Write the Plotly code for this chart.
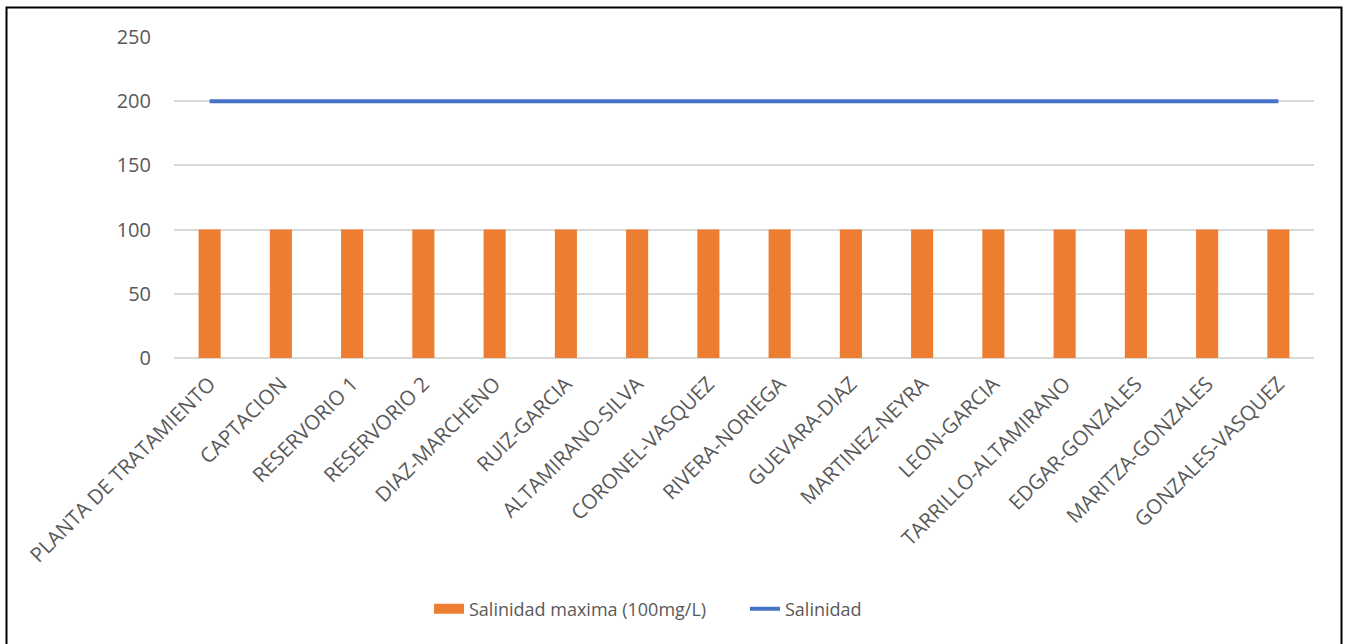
import plotly.graph_objects as go

categories = ["PLANTA DE TRATAMIENTO", "CAPTACION", "RESERVORIO 1", "RESERVORIO 2",
              "DIAZ-MARCHENO", "RUIZ-GARCIA", "ALTAMIRANO-SILVA", "CORONEL-VASQUEZ",
              "RIVERA-NORIEGA", "GUEVARA-DIAZ", "MARTINEZ-NEYRA", "LEON-GARCIA",
              "TARRILLO-ALTAMIRANO", "EDGAR-GONZALES", "MARITZA-GONZALES", "GONZALES-VASQUEZ"]
salinidad_maxima = [100] * 16
salinidad = [200] * 16
y_ticks = [0, 50, 100, 150, 200, 250]

W, H = 1349, 644
L, R, T, B = 174, 1314, 37, 358

def px_x(p):
    return (p - L) / (R - L)

def px_y(p):
    return (B - p) / (B - T)

ORANGE = "#ED7D31"
BLUE = "#4472C4"
TXT = "#595959"

fig = go.Figure()
fig.add_trace(go.Bar(x=categories, y=salinidad_maxima, name="Salinidad maxima (100mg/L)",
                     marker=dict(color=ORANGE, line=dict(width=0)), width=0.31, showlegend=False))
fig.add_trace(go.Scatter(x=[None], y=[None], name="Salinidad maxima (100mg/L)", mode="lines",
                         line=dict(color=ORANGE, width=12), hoverinfo="skip", legend="legend"))
fig.add_trace(go.Scatter(x=categories, y=salinidad, name="Salinidad", mode="lines",
                         line=dict(color=BLUE, width=4), legend="legend2"))

legend_font = dict(family="Open Sans, sans-serif", size=18, color=TXT)
fig.update_layout(
    width=W, height=H,
    margin=dict(l=L, r=W - R, t=T, b=H - B, pad=0),
    paper_bgcolor="white", plot_bgcolor="white",
    font=dict(family="Open Sans, sans-serif", color=TXT, size=15),
    showlegend=True,
    legend=dict(orientation="h", x=px_x(429), xanchor="left", y=px_y(609), yanchor="middle",
                font=legend_font, itemwidth=30, bgcolor="rgba(0,0,0,0)"),
    legend2=dict(orientation="h", x=px_x(745), xanchor="left", y=px_y(609), yanchor="middle",
                 font=legend_font, itemwidth=30, bgcolor="rgba(0,0,0,0)"),
)
fig.update_xaxes(type="category", tickangle=-45, showgrid=False, showline=False, ticks="",
                 ticklabelstandoff=9,
                 tickfont=dict(size=20.5, color=TXT), range=[-0.5, 15.5])
fig.update_yaxes(range=[0, 250], tickvals=y_ticks, showgrid=True, gridcolor="#D9D9D9", gridwidth=1.5,
                 zeroline=True, zerolinecolor="#D9D9D9", zerolinewidth=1.5, showline=False, ticks="",
                 ticklabelstandoff=22,
                 tickfont=dict(family="Open Sans, sans-serif", size=20, color=TXT))

fig.add_shape(type="rect", xref="paper", yref="paper",
              x0=px_x(6.5), x1=px_x(1341.5), y0=px_y(680), y1=px_y(7.5),
              line=dict(color="black", width=2), fillcolor="rgba(0,0,0,0)", layer="above")

fig.write_html("out.html", config={"displayModeBar": False},
               post_script="document.body.style.margin='0';document.body.style.overflow='hidden';")
